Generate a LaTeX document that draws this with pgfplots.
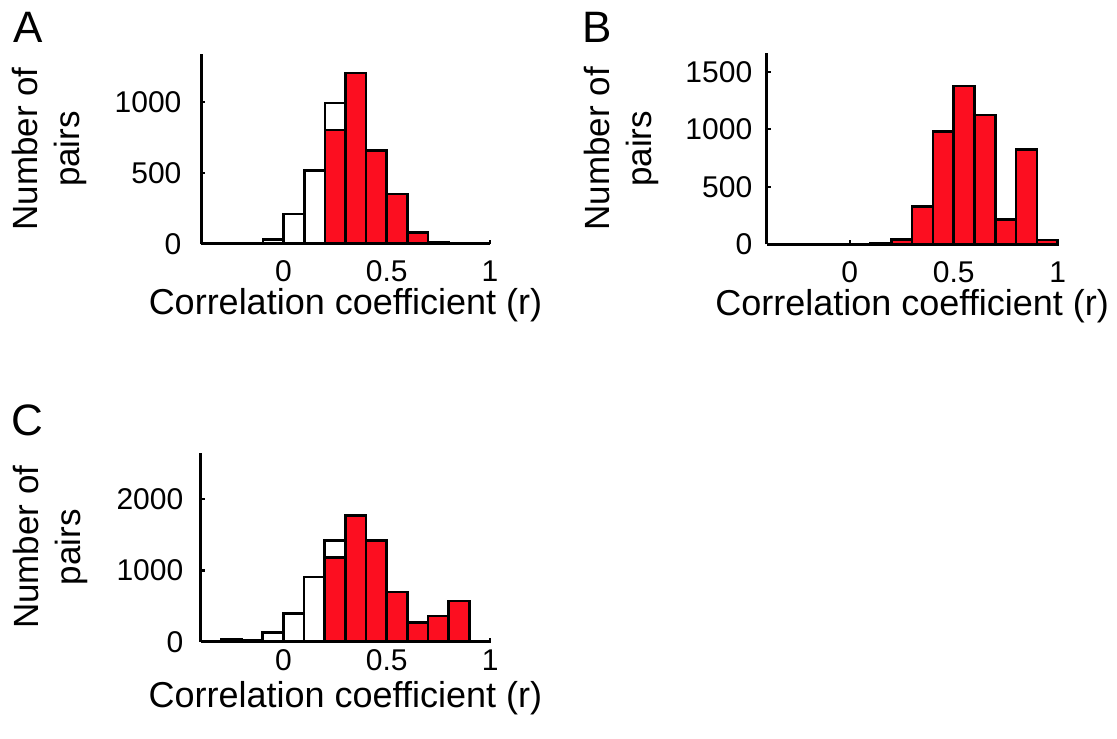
\documentclass[border=0pt]{standalone}
\usepackage{fontspec}
\setmainfont{Liberation Sans}
\usepackage{pgfplots}
\pgfplotsset{compat=1.18}
\definecolor{barred}{RGB}{252,14,32}
\pgfplotsset{
  panel/.style={
    scale only axis, axis lines=left, axis line style={-, line width=1.5pt, black},
    xmin=-0.4, xmax=1, ymin=0,
    xtick={0,0.5,1}, xticklabels={0,0.5,1},
    tick align=inside, major tick length=2pt, tick style={line width=1.2pt, black},
    tick label style={font=\fontsize{15}{18}\selectfont},
    yticklabel style={anchor=east, inner sep=0pt},
    xticklabel style={anchor=base, inner sep=0pt},
    ylabel={Number of\\pairs},
    ylabel style={font=\fontsize{17.5}{21}\selectfont, align=center, anchor=center},
    xlabel={Correlation coefficient (r)},
    xlabel style={font=\fontsize{18}{21}\selectfont, anchor=base, at={(axis description cs:0.5,0)}},
    axis on top, clip=false,
  },
  wbar/.style={ybar interval, fill=white, draw=black, line width=1.3pt},
  rbar/.style={ybar interval, fill=barred, draw=black, line width=1.3pt},
}
\begin{document}
\begin{tikzpicture}[x=1pt,y=1pt]
\useasboundingbox (0,0) rectangle (558.5,369);
% Panel A
\begin{axis}[panel, at={(100.5pt,247pt)}, anchor=south west, width=144.5pt, height=95pt,
  ymax=1340, ytick={0,500,1000}, yticklabels={0,500,1000},
  ylabel style={at={(axis description cs:-0.525,0.5)}},
  xlabel style={yshift=-35.5pt},
  xticklabel style={yshift=-19pt},
  yticklabel style={xshift=-9.6pt}]
\addplot[wbar] coordinates {(-0.1,30) (0,212) (0.1,518) (0.2,993) (0.3,1205) (0.4,659) (0.5,353) (0.6,80) (0.7,10) (0.8,0)};
\addplot[rbar] coordinates {(0.2,805) (0.3,1205) (0.4,659) (0.5,353) (0.6,80) (0.7,0)};
\end{axis}
% Panel B
\begin{axis}[panel, at={(383.3pt,246.85pt)}, anchor=south west, width=145.5pt, height=95.5pt,
  ymax=1660, ytick={0,500,1000,1500}, yticklabels={0,500,1000,1500},
  ylabel style={at={(axis description cs:-0.50,0.5)}},
  xlabel style={yshift=-35.5pt},
  xticklabel style={yshift=-19pt},
  yticklabel style={xshift=-7pt}]
\addplot[rbar] coordinates {(0.1,9) (0.2,41) (0.3,327) (0.4,979) (0.5,1375) (0.6,1124) (0.7,217) (0.8,826) (0.9,38) (1.0,0)};
\end{axis}
% Panel C
\begin{axis}[panel, at={(100.35pt,48.15pt)}, anchor=south west, width=144.7pt, height=94.5pt,
  ymax=2650, ytick={0,1000,2000}, yticklabels={0,1000,2000},
  ylabel style={at={(axis description cs:-0.52,0.5)}},
  xlabel style={yshift=-33pt},
  xticklabel style={yshift=-14.5pt},
  yticklabel style={xshift=-8.5pt}]
\addplot[wbar] coordinates {(-0.3,33) (-0.2,15) (-0.1,126) (0,395) (0.1,907) (0.2,1419) (0.3,0) (0.4,0) (0.5,0) (0.6,0) (0.7,0) (0.8,0) (0.9,10) (1.0,0)};
\addplot[rbar] coordinates {(0.2,1177) (0.3,1767) (0.4,1419) (0.5,698) (0.6,270) (0.7,363) (0.8,572) (0.9,0)};
\end{axis}
\node[anchor=base west, inner sep=0pt, font=\fontsize{22}{26}\selectfont] at (6.3,347.6) {A};
\node[anchor=base west, inner sep=0pt, font=\fontsize{22}{26}\selectfont] at (290.8,347.6) {B};
\node[anchor=base west, inner sep=0pt, font=\fontsize{22}{26}\selectfont] at (5.4,151) {C};
\end{tikzpicture}
\end{document}
